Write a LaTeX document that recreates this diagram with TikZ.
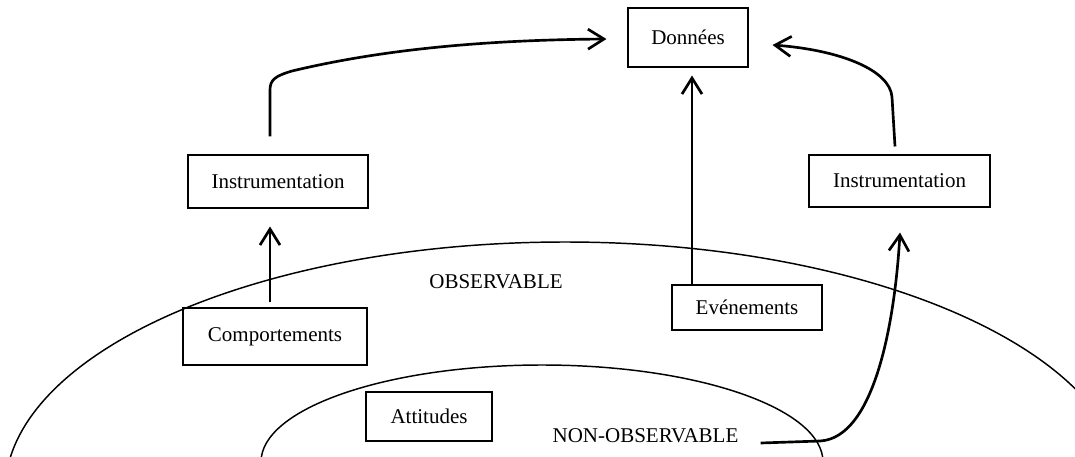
\documentclass[tikz,border=0pt]{standalone}
\usepackage{fontspec}
\setmainfont{Liberation Serif}
\usetikzlibrary{arrows.meta,calc}
\begin{document}
\begin{tikzpicture}[x=0.75pt,y=-0.75pt,
  box/.style={draw, line width=0.8pt, inner sep=0pt, font=\fontsize{15.75}{19}\selectfont},
  lbl/.style={inner sep=0pt, font=\fontsize{15.75}{19}\selectfont},
  arr/.style={line width=2pt, -{Straight Barb[length=12pt,width=15pt]}},
  zone/.style={line width=1.1pt}]
\useasboundingbox (0,0) rectangle (1075,457);
\begin{scope}
\clip (0,0) rectangle (1075,457);
\draw[zone] (565,492) ellipse [x radius=420pt, y radius=187.5pt];
\draw[zone] (542,462) ellipse [x radius=210.75pt, y radius=72.75pt];
\end{scope}
\node[box, minimum width=90pt, minimum height=44.25pt] (D) at (688,37.5) {Données};
\node[box, minimum width=135pt, minimum height=39.75pt] (IL) at (278,181.5) {Instrumentation};
\node[box, minimum width=135.75pt, minimum height=39pt] (IR) at (899.5,181) {Instrumentation};
\node[box, minimum width=138pt, minimum height=42.75pt] (C) at (275,336.5) {Comportements};
\node[box, minimum width=112.5pt, minimum height=33.75pt] (E) at (747,307.5) {Evénements};
\node[box, minimum width=94.5pt, minimum height=36.75pt] (A) at (429,416.5) {\raisebox{-4pt}{Attitudes}};
\node[lbl] (OB) at (496,282) {OBSERVABLE};
\node[lbl] (NO) at (645.5,436) {NON-OBSERVABLE};
\draw[arr] ($(IL.north)+(-8,-18)$) -- (270,90) .. controls (270,80) and (275,76) .. (292,71) .. controls (380,50) and (480,40) .. ($(D.west)+(-21,1.5)$);
\draw[arr] ($(E.north)+(-55,0)$) -- ($(D.south)+(4,8)$);
\draw[arr] ($(C.north)+(-5,-5)$) -- ($(IL.south)+(-8,18)$);
\draw[arr] ($(IR.north)+(-4.5,-8)$) -- (892,97) .. controls (890,70) and (840,50) .. ($(D.east)+(24,7.5)$);
\draw[arr] ($(NO.east)+(22,7)$) -- (820,441) .. controls (875,438) and (895,320) .. ($(IR.south)+(0.5,25)$);
\end{tikzpicture}
\end{document}
